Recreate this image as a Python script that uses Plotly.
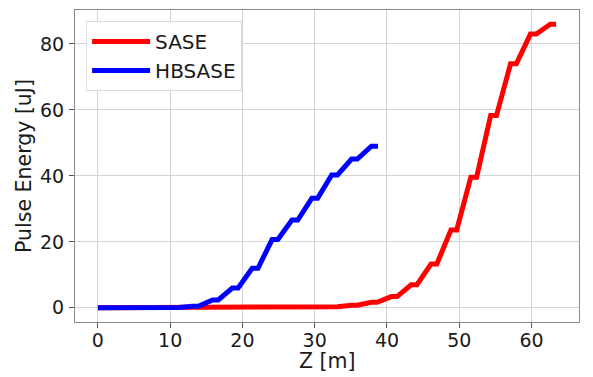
import plotly.graph_objects as go

# Pulse energy along the undulator line, sampled at the start and end of
# every inter-section break (energy is flat across each break).
z_sase = [0.0, 2.1, 2.9, 4.85, 5.65, 7.6, 8.4, 10.35, 11.15, 13.1, 13.9,
          15.85, 16.65, 18.6, 19.4, 21.35, 22.15, 24.1, 24.9, 26.85, 27.65,
          29.6, 30.4, 32.35, 33.15, 35.1, 35.9, 37.85, 38.65, 40.6, 41.4,
          43.35, 44.15, 46.1, 46.9, 48.85, 49.65, 51.6, 52.4, 54.35, 55.15,
          57.1, 57.9, 59.85, 60.65, 61.7, 62.6, 63.4]
e_sase = [0.0, 0.0, 0.0, 0.0, 0.0, 0.0, 0.0, 0.0, 0.0, 0.0, 0.0,
          0.01, 0.01, 0.02, 0.02, 0.03, 0.03, 0.05, 0.05, 0.08, 0.08,
          0.15, 0.15, 0.35, 0.35, 0.8, 0.8, 1.7, 1.7, 3.4, 3.4,
          7.0, 7.0, 13.3, 13.3, 23.6, 23.6, 39.6, 39.6, 58.3, 58.3,
          74.0, 74.0, 83.0, 83.0, 84.6, 86.0, 86.0]

z_hbsase = [0.0, 2.1, 2.9, 4.85, 5.65, 7.6, 8.4, 10.35, 11.15, 13.1, 13.9,
            15.85, 16.65, 18.6, 19.4, 21.35, 22.15, 24.1, 24.9, 26.85, 27.65,
            29.6, 30.4, 32.35, 33.15, 35.1, 35.9, 37.85, 38.75]
e_hbsase = [0.0, 0.0, 0.0, 0.0, 0.0, 0.02, 0.02, 0.1, 0.1, 0.5, 0.5,
            2.4, 2.4, 6.0, 6.0, 12.0, 12.0, 20.7, 20.7, 26.6, 26.6,
            33.2, 33.2, 40.3, 40.3, 45.1, 45.1, 49.0, 49.0]

x_ticks = [0, 10, 20, 30, 40, 50, 60]
y_ticks = [0, 20, 40, 60, 80]

FONT = "DejaVu Sans"
INK = "#1a1a1a"

fig = go.Figure()
fig.add_trace(go.Scatter(x=z_sase, y=e_sase, mode="lines", name="SASE",
                         line=dict(color="#ff0000", width=5)))
fig.add_trace(go.Scatter(x=z_hbsase, y=e_hbsase, mode="lines", name="HBSASE",
                         line=dict(color="#0000ff", width=5)))

axis_common = dict(
    showline=True, linecolor="#8a8a8a", linewidth=1.2, mirror=True,
    showgrid=True, gridcolor="#d4d4d4", gridwidth=1,
    zeroline=False, ticks="outside", ticklen=5, tickcolor="#555555",
    tickfont=dict(family=FONT, size=19, color=INK),
    automargin=False,
)

fig.update_layout(
    width=593, height=377,
    margin=dict(l=75, r=14, t=10, b=55),
    paper_bgcolor="white", plot_bgcolor="white",
    font=dict(family=FONT, color=INK),
    showlegend=True,
    legend=dict(
        x=0.022, y=0.965, xanchor="left", yanchor="top",
        bgcolor="rgba(255,255,255,0.9)", bordercolor="#dcdcdc", borderwidth=1,
        font=dict(family=FONT, size=20, color=INK),
        tracegroupgap=0, itemwidth=58,
    ),
    xaxis=dict(range=[-3.17, 66.57], tickvals=x_ticks, ticklabelstandoff=-4,
               **axis_common),
    yaxis=dict(range=[-4.3, 90.3], tickvals=y_ticks, ticklabelstandoff=1,
               title=dict(text="Pulse Energy [uJ]",
                          font=dict(family=FONT, size=20.5, color=INK),
                          standoff=2),
               **axis_common),
    annotations=[dict(
        text="Z [m]", xref="paper", yref="paper", x=0.5, y=-0.125,
        xanchor="center", yanchor="middle", showarrow=False,
        font=dict(family=FONT, size=20.5, color=INK),
    )],
)

fig.write_html("out.html")
